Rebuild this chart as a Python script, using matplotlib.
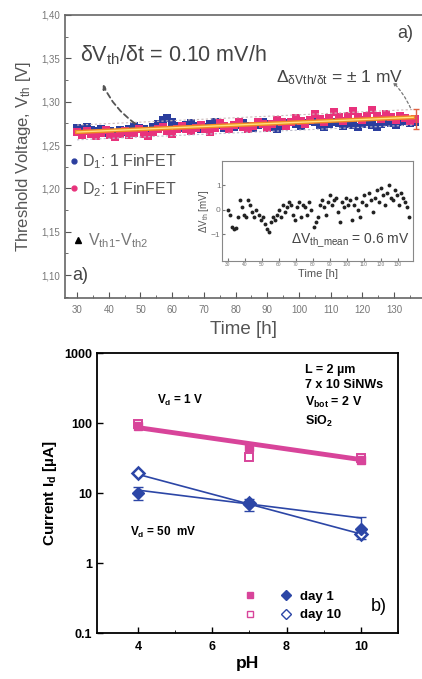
import numpy as np
import matplotlib
matplotlib.use("Agg")
import matplotlib.pyplot as plt
from matplotlib.lines import Line2D
from matplotlib.legend_handler import HandlerTuple

plt.rcParams['font.family'] = ['Liberation Sans', 'DejaVu Sans']
plt.rcParams['mathtext.default'] = 'regular'

# ---------------- data: panel a ----------------
d1_vth = [1.270, 1.268, 1.271, 1.267, 1.266, 1.268, 1.264, 1.266, 1.263, 1.267,
          1.265, 1.268, 1.272, 1.270, 1.268, 1.266, 1.271, 1.274, 1.279, 1.281,
          1.277, 1.272, 1.270, 1.273, 1.275, 1.272, 1.269, 1.271, 1.274, 1.276,
          1.273, 1.270, 1.268, 1.271, 1.273, 1.275, 1.272, 1.270, 1.273, 1.276,
          1.274, 1.271, 1.269, 1.272, 1.275, 1.277, 1.274, 1.272, 1.275, 1.278,
          1.276, 1.273, 1.271, 1.274, 1.277, 1.275, 1.272, 1.274, 1.273, 1.271,
          1.274, 1.276, 1.273, 1.271, 1.274, 1.277, 1.275, 1.273, 1.276, 1.278,
          1.275, 1.276]
d2_vth = [1.265, 1.262, 1.266, 1.263, 1.260, 1.264, 1.267, 1.262, 1.259, 1.263,
          1.266, 1.261, 1.264, 1.268, 1.263, 1.260, 1.265, 1.268, 1.271, 1.266,
          1.263, 1.268, 1.272, 1.269, 1.266, 1.270, 1.273, 1.268, 1.265, 1.270,
          1.275, 1.272, 1.269, 1.273, 1.276, 1.271, 1.268, 1.272, 1.277, 1.274,
          1.270, 1.274, 1.279, 1.276, 1.272, 1.277, 1.281, 1.278, 1.274, 1.279,
          1.286, 1.280, 1.276, 1.281, 1.288, 1.282, 1.278, 1.283, 1.289, 1.282,
          1.279, 1.284, 1.290, 1.283, 1.280, 1.286, 1.282, 1.279, 1.283, 1.281,
          1.278, 1.280]
t_start, t_step = 30.0, 1.5
fit_t = [30, 136]
fit_v = [1.265, 1.282]
band_lo = [1.256, 1.273]
band_hi = [1.273, 1.291]
err_t, err_v, err_e = 137.0, 1.280, 0.011

inset_dv = [0.0, -0.2, -0.7, -0.8, -0.75, -0.3, 0.4, 0.1, -0.2, -0.3,
            0.4, 0.2, -0.1, -0.3, 0.0, -0.2, -0.4, -0.3, -0.6, -0.8,
            -0.9, -0.5, -0.3, -0.4, -0.2, 0.0, -0.3, 0.2, -0.1, 0.1,
            0.3, 0.2, -0.2, -0.4, 0.1, 0.3, -0.3, 0.2, 0.1, -0.2,
            0.3, 0.0, -0.7, -0.5, -0.3, 0.2, 0.4, 0.1, -0.2, 0.3,
            0.6, 0.2, 0.4, 0.5, -0.1, -0.5, 0.3, 0.1, 0.5, 0.2,
            0.4, -0.4, 0.2, 0.5, 0.0, -0.3, 0.3, 0.6, 0.2, 0.7,
            0.4, -0.1, 0.5, 0.8, 0.3, 0.9, 0.6, 0.2, 0.7, 1.0,
            0.5, 0.4, 0.8, 0.6, 0.2, 0.7, 0.5, 0.3, 0.1, -0.3]
inset_step = 1.2

a_xticks = [30, 40, 50, 60, 70, 80, 90, 100, 110, 120, 130]
a_yticks = [1.10, 1.15, 1.20, 1.25, 1.30, 1.35, 1.40]

# ---------------- data: panel b ----------------
ph = [4, 7, 10]
i_1v_day1 = [90, 46, 30]
i_1v_day10 = [98, 33, 32]
i_1v_err = [8, 5, 3]
i_50_day1 = [10, 7.0, 3.1]
i_50_day10 = [19, 7.2, 2.6]
i_50_err_lo = [2.0, 1.4, 0.9]
i_50_err_hi = [2.0, 1.2, 1.5]
fit_ph = [4, 10]
fit_1v = [86, 30]
fit_50_day1 = [11, 4.4]
fit_50_day10 = [18.5, 2.6]
b_xticks = [4, 6, 8, 10]
b_yticks = [0.1, 1, 10, 100, 1000]
b_yticklabels = ['0.1', '1', '10', '100', '1000']

BLUE = '#2b3e9e'
PINK = '#e8327c'
GRAY = '#555555'
MAG = '#d8449a'
DBLUE = '#2c46a6'

W, H = 422, 679
fig = plt.figure(figsize=(W / 100, H / 100), dpi=100)

# ---------------- panel a ----------------
ax = fig.add_axes([65 / W, 1 - 298 / H, (W - 65) / W, (298 - 15) / H])
t1 = t_start + t_step * np.arange(len(d1_vth))
t2 = t_start + t_step * np.arange(len(d2_vth))
ax.plot(t1, d1_vth, 's', color=BLUE, ms=5.5, mew=0)
ax.plot(t2, d2_vth, 's', color=PINK, ms=5.5, mew=0)
ax.plot(fit_t, band_lo, ls=(0, (2, 2)), color='#bbbbcc', lw=0.8)
ax.plot(fit_t, band_hi, ls=(0, (2, 2)), color='#ccbbbb', lw=0.8)
ax.plot(fit_t, fit_v, color='#f08a24', lw=3)
ax.plot(fit_t, fit_v, color='#ffe27a', lw=1)
ax.errorbar([err_t], [err_v], yerr=[err_e], fmt='none', ecolor='#e06040',
            capsize=2.5, lw=1)

ax.set_xlim(26.2, 138.8)
ax.set_ylim(1.0735, 1.40)
ax.set_xticks(a_xticks)
ax.set_xticks(np.arange(35, 136, 10), minor=True)
ax.set_yticks(a_yticks)
ax.set_yticks(np.arange(1.075, 1.40, 0.05), minor=True)
ax.set_yticklabels([f'{v:.2f}'.replace('.', ',') for v in a_yticks])
ax.tick_params(direction='in', labelsize=7, colors=GRAY, length=4, width=0.8)
ax.tick_params(axis='x', pad=5)
ax.tick_params(which='minor', direction='in', length=2, colors=GRAY)
for lab in ax.get_xticklabels() + ax.get_yticklabels():
    lab.set_color('#777777')
ax.spines['right'].set_visible(False)
for s in ['left', 'top', 'bottom']:
    ax.spines[s].set_color('#666666')
    ax.spines[s].set_linewidth(1.2)
ax.set_xlabel('Time [h]', fontsize=13.5, color=GRAY, labelpad=4)
ax.set_ylabel('Threshold Voltage, V$_{th}$ [V]', fontsize=12, color=GRAY, labelpad=6)

ax.text(0.042, 0.857, r'$\delta$V$_{th}$/$\delta$t = 0.10 mV/h', transform=ax.transAxes,
        fontsize=15.5, color='#444444', va='center')
ax.text(0.59, 0.78, r'$\Delta_{\delta Vth/\delta t}$ = $\pm$ 1 mV', transform=ax.transAxes,
        fontsize=12.5, color='#444444', va='center')
ax.text(0.93, 0.935, 'a)', transform=ax.transAxes, fontsize=13, color='#444444', va='center')
ax.text(0.02, 0.08, 'a)', transform=ax.transAxes, fontsize=13, color='#444444', va='center')

ax.annotate('', xy=(37.8, 1.323), xytext=(49, 1.273),
            arrowprops=dict(arrowstyle='-|>', ls=(0, (3, 2)), color='#555555', lw=1.3,
                            connectionstyle='arc3,rad=-0.15', mutation_scale=6))
ax.annotate('', xy=(129, 1.325), xytext=(135.5, 1.29),
            arrowprops=dict(arrowstyle='-|>', ls=(0, (2, 2)), color='#777777', lw=0.9,
                            connectionstyle='arc3,rad=0.1', mutation_scale=5))

handles = [Line2D([], [], marker='o', color=BLUE, ls='none', ms=3.5),
           Line2D([], [], marker='o', color=PINK, ls='none', ms=3.5)]
leg = ax.legend(handles, ['D$_1$: 1 FinFET', 'D$_2$: 1 FinFET'],
                loc='upper left', bbox_to_anchor=(-0.025, 0.565), frameon=False,
                fontsize=11.5, handlelength=0.5, handletextpad=0.25, labelspacing=0.55)
for txt in leg.get_texts():
    txt.set_color(GRAY)
ax.add_artist(leg)
leg2 = ax.legend([Line2D([], [], marker='^', color='black', ls='none', ms=5)],
                 ['V$_{th1}$-V$_{th2}$'], loc='upper left', bbox_to_anchor=(-0.015, 0.285),
                 frameon=False, fontsize=11.5, handlelength=0.5, handletextpad=0.35)
for txt in leg2.get_texts():
    txt.set_color('#777777')

# ---------------- inset ----------------
axi = fig.add_axes([222 / W, 1 - 261 / H, (413 - 222) / W, (261 - 161) / H])
ti = t_start + inset_step * np.arange(len(inset_dv))
axi.plot(ti, inset_dv, 'o', color='#222222', ms=2.8, mew=0)
axi.set_xlim(26.5, 139)
axi.set_ylim(-2.1, 2.0)
axi.set_xticks(a_xticks)
axi.set_yticks([-1, 0, 1])
axi.tick_params(direction='in', labelsize=3.5, colors='#777777', length=2, pad=1)
axi.tick_params(axis='y', labelsize=6)
axi.set_xlabel('Time [h]', fontsize=8, color=GRAY, labelpad=1)
axi.set_ylabel('$\\Delta$V$_{th}$ [mV]', fontsize=7, color=GRAY, labelpad=0)
for s in axi.spines.values():
    s.set_color('#888888')
axi.text(0.36, 0.2, '$\\Delta$V$_{th\\_mean}$ = 0.6 mV', transform=axi.transAxes,
         fontsize=10, color='#444444', va='center')

# ---------------- panel b ----------------
bx = fig.add_axes([97 / W, 1 - 633 / H, (398 - 97) / W, (633 - 353) / H])
bx.set_yscale('log')
bx.plot(fit_ph, fit_1v, color=MAG, lw=3.5)
bx.plot(fit_ph, fit_50_day1, color=DBLUE, lw=1.2)
bx.plot(fit_ph, fit_50_day10, color=DBLUE, lw=1.2)
bx.errorbar(ph, i_1v_day1, yerr=i_1v_err, fmt='s', color=MAG, ms=6, capsize=3, lw=1)
bx.plot(ph, i_1v_day10, 's', mfc='white', mec=MAG, ms=6, mew=1.4)
bx.errorbar(ph, i_50_day1, yerr=[i_50_err_lo, i_50_err_hi], fmt='D', color=DBLUE,
            ms=6, capsize=3.5, lw=1)
bx.plot(ph, i_50_day10, 'D', mfc='white', mec=DBLUE, ms=6, mew=1.8)

bx.set_xlim(2.9, 11.0)
bx.set_ylim(0.1, 1000)
bx.set_xticks(b_xticks)
bx.set_xticks([5, 7, 9, 11], minor=True)
bx.set_yticks(b_yticks)
bx.set_yticklabels(b_yticklabels)
bx.yaxis.set_minor_locator(matplotlib.ticker.NullLocator())
bx.tick_params(direction='in', labelsize=9, length=4, width=1)
bx.tick_params(axis='x', pad=6)
bx.tick_params(which='minor', direction='in', length=2)
for lab in bx.get_xticklabels() + bx.get_yticklabels():
    lab.set_fontweight('bold')
for s in bx.spines.values():
    s.set_linewidth(1.3)
bx.set_xlabel('pH', fontsize=12.5, fontweight='bold', labelpad=2)
bx.set_ylabel('Current I$_d$ [\u00b5A]', fontsize=11, fontweight='bold', labelpad=4)

bx.text(0.20, 0.83, 'V$_d$ = 1 V', transform=bx.transAxes, fontsize=8.5,
        fontweight='bold', va='center')
bx.text(0.11, 0.36, 'V$_d$ = 50  mV', transform=bx.transAxes, fontsize=8.5,
        fontweight='bold', va='center')
bx.text(0.69, 0.96, 'L = 2 \u00b5m\n7 x 10 SiNWs\nV$_{bot}$ = 2 V\nSiO$_2$',
        transform=bx.transAxes, fontsize=9, fontweight='bold', va='top',
        linespacing=1.35)
bx.text(0.91, 0.095, 'b)', transform=bx.transAxes, fontsize=13, va='center')

h1 = (Line2D([], [], marker='s', color=MAG, ls='none', ms=5),
      Line2D([], [], marker='D', color=DBLUE, ls='none', ms=5))
h2 = (Line2D([], [], marker='s', mfc='white', mec=MAG, ls='none', ms=5),
      Line2D([], [], marker='D', mfc='white', mec=DBLUE, ls='none', ms=5))
bl = bx.legend([h1, h2], ['day 1', 'day 10'], handler_map={tuple: HandlerTuple(ndivide=None, pad=1.8)},
               loc='lower left', bbox_to_anchor=(0.45, 0.0), frameon=False,
               fontsize=9.5, handlelength=3.6, handletextpad=0.6, labelspacing=0.45)
for txt in bl.get_texts():
    txt.set_fontweight('bold')

fig.savefig('out.png', dpi=100)
